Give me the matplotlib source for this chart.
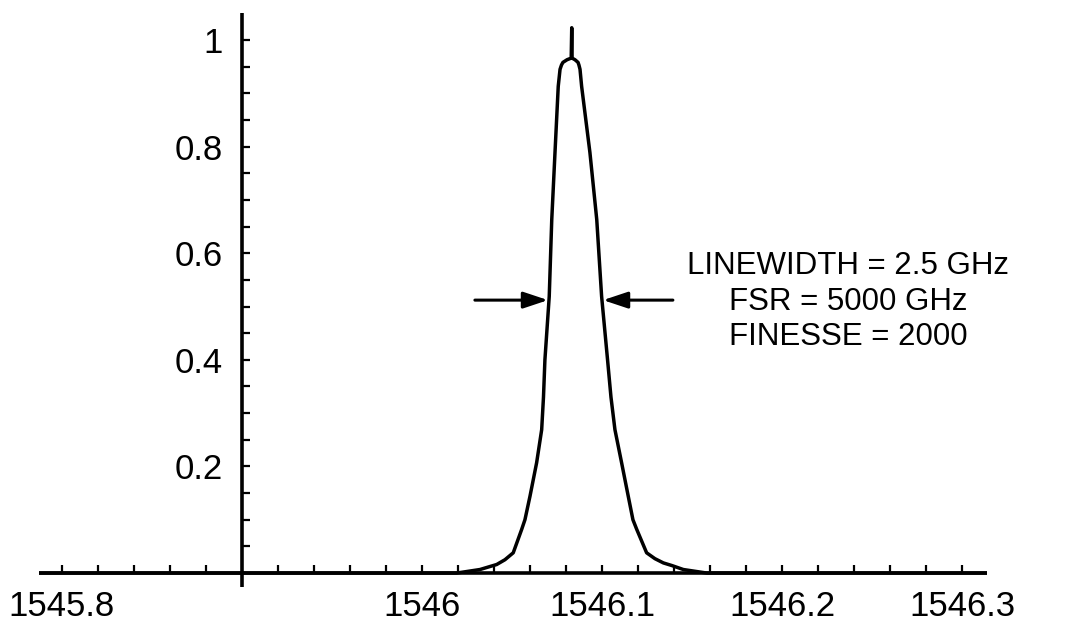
import matplotlib
matplotlib.use("Agg")
import matplotlib.pyplot as plt
from matplotlib.ticker import FixedLocator, NullFormatter

plt.rcParams["font.family"] = ["Liberation Sans", "DejaVu Sans"]

# Transmission of the Fabry-Perot filter vs wavelength (nm)
wavelength = [
    1545.787, 1545.900, 1546.0000, 1546.0193, 1546.0322, 1546.0415, 1546.0461,
    1546.0507, 1546.0554, 1546.0572, 1546.0600, 1546.0637, 1546.0665, 1546.0675,
    1546.0683, 1546.0707, 1546.0721, 1546.0739, 1546.0757, 1546.0767, 1546.0775,
    1546.0783, 1546.0806, 1546.0829, 1546.0832, 1546.0834, 1546.0850,
    1546.0867, 1546.0872, 1546.0878, 1546.0887, 1546.0933, 1546.0971,
    1546.0998, 1546.1031, 1546.1050, 1546.1072, 1546.1109, 1546.1146, 1546.1172,
    1546.1193, 1546.1248, 1546.1294, 1546.1341, 1546.1389, 1546.1452, 1546.1582,
    1546.1710, 1546.2500, 1546.314,
]
transmission = [
    0.000, 0.000, 0.000, 0.000, 0.0066, 0.016, 0.025,
    0.038, 0.082, 0.100, 0.144, 0.207, 0.269, 0.330,
    0.400, 0.519, 0.663, 0.789, 0.913, 0.945, 0.953,
    0.958, 0.963, 0.966, 1.023, 0.966, 0.963,
    0.958, 0.953, 0.945, 0.913, 0.789, 0.663,
    0.519, 0.400, 0.330, 0.269, 0.207, 0.144, 0.100,
    0.082, 0.038, 0.027, 0.019, 0.014, 0.0066, 0.000,
    0.000, 0.000, 0.000,
]

x_ticks = [1545.8, 1546.0, 1546.1, 1546.2, 1546.3]
x_tick_labels = ["1545.8", "1546", "1546.1", "1546.2", "1546.3"]
y_ticks = [0.2, 0.4, 0.6, 0.8, 1.0]
y_tick_labels = ["0.2", "0.4", "0.6", "0.8", "1"]

half_max = 0.512
fwhm_left, fwhm_right = 1546.0700, 1546.1006
info_lines = ["LINEWIDTH = 2.5 GHz", "FSR = 5000 GHz", "FINESSE = 2000"]

fig = plt.figure(figsize=(10.74, 6.25), dpi=100)
ax = fig.add_axes([0.03594, 0.06096, 0.8832, 0.91768])
ax.set_xlim(1545.787, 1546.314)
ax.set_ylim(-0.026, 1.05)

# axes crossing at (1545.9, 0)
for side in ("top", "right"):
    ax.spines[side].set_visible(False)
ax.spines["left"].set_position(("data", 1545.9))
ax.spines["bottom"].set_position(("data", 0.0))
for side in ("left", "bottom"):
    ax.spines[side].set_linewidth(2.6)
    ax.spines[side].set_capstyle("butt")

ax.xaxis.set_major_locator(FixedLocator(x_ticks))
ax.set_xticklabels(x_tick_labels)
x_minor = [round(1545.8 + 0.02 * i, 2) for i in range(26)]
x_minor = [v for v in x_minor if all(abs(v - t) > 1e-6 for t in x_ticks) and abs(v - 1545.9) > 1e-6]
ax.xaxis.set_minor_locator(FixedLocator(x_minor))

ax.yaxis.set_major_locator(FixedLocator(y_ticks))
ax.set_yticklabels(y_tick_labels)
y_minor = [round(0.05 * i, 2) for i in range(1, 21)]
y_minor = [v for v in y_minor if all(abs(v - t) > 1e-6 for t in y_ticks)]
ax.yaxis.set_minor_locator(FixedLocator(y_minor))
ax.yaxis.set_minor_formatter(NullFormatter())
ax.xaxis.set_minor_formatter(NullFormatter())

ax.tick_params(which="both", direction="in", length=5.5, width=1.6, color="black")
ax.tick_params(axis="x", which="major", labelsize=25, pad=12)
ax.tick_params(axis="y", which="major", labelsize=25, pad=14)

ax.plot(wavelength, transmission, color="black", lw=2.5, solid_joinstyle="round")

# FWHM arrows
arrow_kw = dict(arrowstyle="-|>,head_length=1.5,head_width=0.5", color="black", lw=2.2,
                shrinkA=0, shrinkB=0)
ax.annotate("", xy=(fwhm_left, half_max), xytext=(1546.0294, half_max), arrowprops=arrow_kw)
ax.annotate("", xy=(fwhm_right, half_max), xytext=(1546.1394, half_max), arrowprops=arrow_kw)

for text, yv in zip(info_lines, [0.576, 0.508, 0.443]):
    ax.text(1546.2367, yv, text, ha="center", va="center", fontsize=22.5)

fig.savefig("out.png", dpi=100, facecolor="white")
